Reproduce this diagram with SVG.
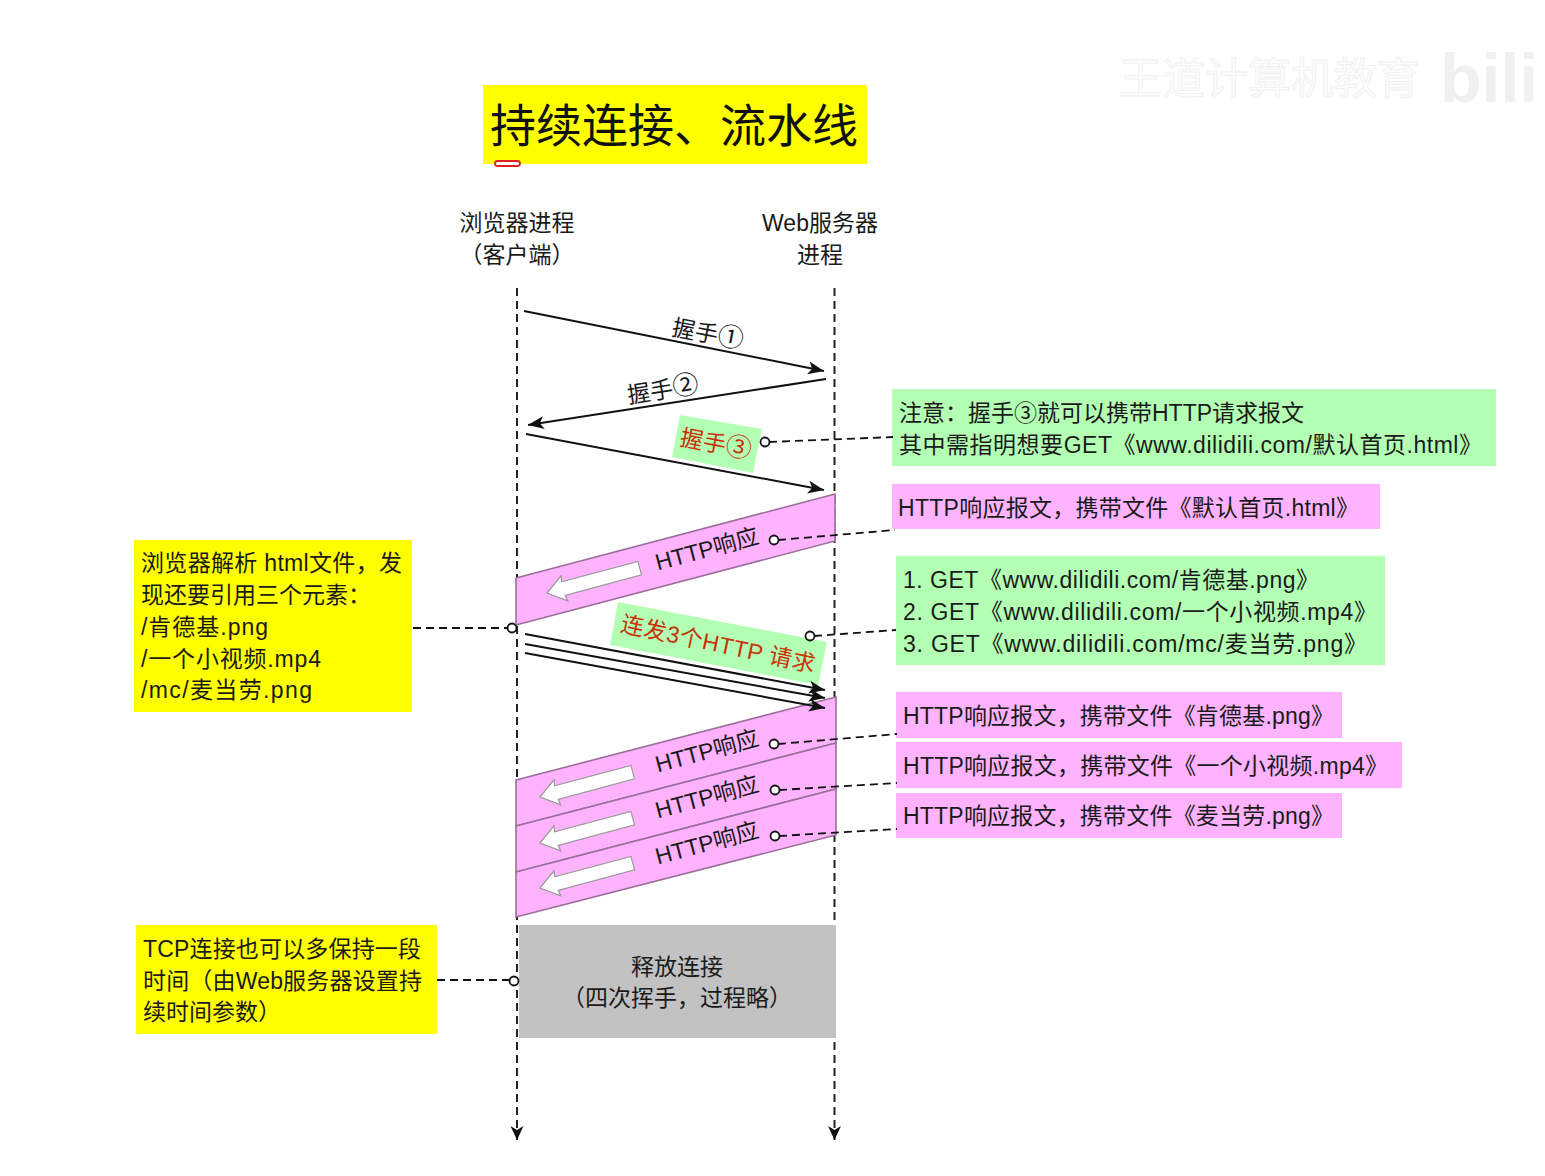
<svg xmlns="http://www.w3.org/2000/svg" width="1545" height="1176" viewBox="0 0 1545 1176">
<style>
text{font-family:"Liberation Sans","Noto Sans CJK SC",sans-serif;font-size:23px;fill:#1a1a1a}
.c{text-anchor:middle}
.n{font-size:26px}
.life{stroke:#222;stroke-width:2;stroke-dasharray:8 5;fill:none}
.msg{stroke:#111;stroke-width:2;fill:none;marker-end:url(#ah)}
.lead{stroke:#111;stroke-width:1.800;stroke-dasharray:8 5;fill:none}
.dot{fill:#fff;stroke:#111;stroke-width:1.800}
.y{fill:#ffff00}.g{fill:#b3ffb3}.p{fill:#ffb3ff}
.band{fill:#ffb3ff;stroke:#9a6f9a;stroke-width:1.600}
.wa{fill:#fff;stroke:#999;stroke-width:1.200}
.red{fill:#c8320a}
</style>
<defs>
<marker id="ah" markerUnits="userSpaceOnUse" markerWidth="18" markerHeight="14" refX="16" refY="7" orient="auto"><path d="M0,0.5 L16,7 L0,13.5 L4,7 Z" fill="#111"/></marker>
<marker id="ahd" markerUnits="userSpaceOnUse" markerWidth="14" markerHeight="18" refX="7" refY="16" orient="0"><path d="M0.5,2 L7,16 L13.500,2 L7,6 Z" fill="#111"/></marker>
<path id="wa" class="wa" d="M0,0 L18,-13 L17,-7 L96,-7 L96,7 L17,7 L18,13 Z"/>
</defs>
<rect width="1545" height="1176" fill="#fff"/>
<g id="watermark">
<text x="1119" y="94" style="font-size:43px;fill:#fdfdfd;stroke:#f1f1f1;stroke-width:1">王道计算机教育</text>
<text x="1440" y="102" style="font-size:68px;font-weight:bold;fill:#f0f0f0">bili</text>
</g>
<g id="title">
<rect class="y" x="483" y="85" width="384" height="79"/>
<text x="490" y="142" style="font-size:46px;fill:#111">持续连接、流水线</text>
<rect x="495" y="161" width="25" height="5" rx="2.500" fill="#fff" stroke="#e02020" stroke-width="1.800"/>
</g>
<g id="client"><text class="c" x="517" y="231">浏览器进程</text><text class="c" x="517" y="263">（客户端）</text></g>
<g id="server"><text class="c" x="820" y="231">Web服务器</text><text class="c" x="820" y="263">进程</text></g>

<g id="lifelines">
<path class="life" d="M517,288 V1140" marker-end="url(#ahd)"/>
<path class="life" d="M834.500,288 V1140" marker-end="url(#ahd)"/>
</g>

<g id="band-1">
<polygon class="band" points="516,578 835,494 835,541 516,625"/>
<use href="#wa" transform="translate(547,593) rotate(-15)"/>
<text class="c" x="707" y="557" transform="rotate(-15 707 549)">HTTP响应</text>
</g>
<g id="band-2">
<polygon class="band" points="516,780 836,697 836,743 516,826"/>
<use href="#wa" transform="translate(540,797) rotate(-15)"/>
<text class="c" x="707" y="759" transform="rotate(-15 707 751)">HTTP响应</text>
</g>
<g id="band-3">
<polygon class="band" points="516,826 836,743 836,789 516,872"/>
<use href="#wa" transform="translate(540,843) rotate(-15)"/>
<text class="c" x="707" y="805" transform="rotate(-15 707 797)">HTTP响应</text>
</g>
<g id="band-4">
<polygon class="band" points="516,872 836,789 836,835 516,917"/>
<use href="#wa" transform="translate(540,888) rotate(-15)"/>
<text class="c" x="707" y="851" transform="rotate(-15 707 843)">HTTP响应</text>
</g>

<g id="label-hs3">
<polygon class="g" points="680,415 762,429 753,473 672,457"/>
<text class="c red" x="716" y="452" transform="rotate(11 716 444)">握手<tspan class="n" style="fill:#c8320a">③</tspan></text>
</g>
<g id="label-3req">
<polygon class="g" points="618,602 827,642 818,685 610,645"/>
<text class="c red" x="718" y="652" transform="rotate(12 718 644)" textLength="198">连发3个HTTP 请求</text>
</g>
<text class="c" x="708" y="342" transform="rotate(11 708 334)">握手<tspan class="n">①</tspan></text>
<text class="c" x="663" y="398" transform="rotate(-9 663 390)">握手<tspan class="n">②</tspan></text>

<g id="release">
<rect x="519" y="925" width="317" height="113" fill="#c2c2c2"/>
<text class="c" x="677" y="975">释放连接</text>
<text class="c" x="677" y="1006">（四次挥手，过程略）</text>
</g>

<g id="note-hs3">
<rect class="g" x="892" y="389" width="604" height="77"/>
<text x="899" y="421">注意：握手③就可以携带HTTP请求报文</text>
<text x="899" y="453" textLength="583">其中需指明想要GET《www.dilidili.com/默认首页.html》</text>
</g>
<g id="note-resp1">
<rect class="p" x="892" y="484" width="488" height="45"/>
<text x="898" y="516" textLength="461">HTTP响应报文，携带文件《默认首页.html》</text>
</g>
<g id="note-3req">
<rect class="g" x="896" y="556" width="489" height="109"/>
<text x="903" y="588" textLength="416">1. GET《www.dilidili.com/肯德基.png》</text>
<text x="903" y="620" textLength="474">2. GET《www.dilidili.com/一个小视频.mp4》</text>
<text x="903" y="652" textLength="464">3. GET《www.dilidili.com/mc/麦当劳.png》</text>
</g>
<g id="note-resp2">
<rect class="p" x="896" y="692" width="446" height="46"/>
<text x="903" y="724" textLength="431">HTTP响应报文，携带文件《肯德基.png》</text>
</g>
<g id="note-resp3">
<rect class="p" x="896" y="742" width="506" height="46"/>
<text x="903" y="774" textLength="485">HTTP响应报文，携带文件《一个小视频.mp4》</text>
</g>
<g id="note-resp4">
<rect class="p" x="896" y="793" width="446" height="45"/>
<text x="903" y="824" textLength="431">HTTP响应报文，携带文件《麦当劳.png》</text>
</g>
<g id="note-parse">
<rect class="y" x="134" y="540" width="278" height="172"/>
<text x="141" y="571" textLength="261">浏览器解析 html文件，发</text>
<text x="141" y="603">现还要引用三个元素：</text>
<text x="141" y="635" textLength="127">/肯德基.png</text>
<text x="141" y="667" textLength="180">/一个小视频.mp4</text>
<text x="141" y="698" textLength="171">/mc/麦当劳.png</text>
</g>
<g id="note-keep">
<rect class="y" x="136" y="925" width="301" height="109"/>
<text x="143" y="957" textLength="278">TCP连接也可以多保持一段</text>
<text x="143" y="989" textLength="279">时间（由Web服务器设置持</text>
<text x="143" y="1020">续时间参数）</text>
</g>

<g id="connectors">
<path class="msg" d="M524,311 L824,371"/>
<path class="msg" d="M826,379 L528,425"/>
<path class="msg" d="M526,434 L824,490"/>
<path class="msg" d="M525,634 L825,690"/>
<path class="msg" d="M525,644 L825,698"/>
<path class="msg" d="M525,653 L825,708"/>
<path class="lead" d="M769,442 L893,437"/><circle class="dot" cx="765" cy="442" r="4.500"/>
<path class="lead" d="M778,540 L895,530"/><circle class="dot" cx="774" cy="540" r="4.500"/>
<path class="lead" d="M413,628 L508,628"/><circle class="dot" cx="512" cy="628" r="4.500"/>
<path class="lead" d="M814,636 L896,630"/><circle class="dot" cx="810" cy="636" r="4.500"/>
<path class="lead" d="M778,744 L897,734"/><circle class="dot" cx="774" cy="744" r="4.500"/>
<path class="lead" d="M779,790 L897,783"/><circle class="dot" cx="775" cy="790" r="4.500"/>
<path class="lead" d="M779,836 L897,829"/><circle class="dot" cx="775" cy="836" r="4.500"/>
<path class="lead" d="M437,980 L509,980"/><circle class="dot" cx="514" cy="981" r="4.500"/>
</g>
</svg>
